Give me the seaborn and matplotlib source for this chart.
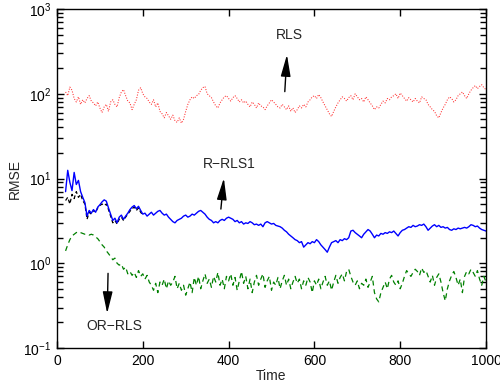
import numpy as np
import pandas as pd
import matplotlib
matplotlib.use("Agg")
import matplotlib.pyplot as plt
from matplotlib.ticker import FixedLocator, NullFormatter, LogLocator
import seaborn as sns

# ---- data (time step 5, from 20 to 1000) ----
time = list(range(20, 1001, 5))

rls = [
    105, 95, 120, 110, 88, 80, 92, 75, 85, 78,
    88, 95, 82, 78, 72, 80, 68, 60, 70, 75,
    62, 80, 85, 75, 70, 90, 105, 112, 95, 82,
    78, 65, 75, 85, 110, 118, 100, 92, 88, 80,
    75, 85, 70, 78, 62, 58, 52, 60, 55, 50,
    56, 48, 46, 52, 45, 50, 62, 75, 85, 92,
    88, 95, 98, 110, 118, 122, 100, 95, 90, 80,
    72, 68, 78, 85, 92, 95, 88, 82, 90, 95,
    88, 80, 85, 78, 82, 75, 70, 80, 75, 68,
    78, 72, 70, 65, 72, 78, 85, 80, 75, 70,
    68, 75, 70, 65, 72, 62, 68, 60, 65, 72,
    68, 75, 70, 80, 85, 92, 95, 88, 98, 90,
    80, 72, 65, 58, 54, 62, 70, 78, 85, 92,
    88, 82, 90, 95, 85, 100, 92, 85, 88, 80,
    92, 85, 78, 72, 65, 70, 68, 75, 82, 78,
    88, 85, 92, 95, 100, 88, 102, 95, 88, 82,
    90, 85, 80, 88, 82, 78, 92, 88, 85, 75,
    70, 65, 62, 55, 52, 60, 68, 75, 85, 92,
    88, 80, 85, 95, 100, 105, 95, 88, 100, 110,
    118, 125, 115, 122, 128, 118, 112,
]

rrls1 = [
    7.0, 12.5, 9.0, 7.2, 11.8, 8.5, 9.5, 7.0, 6.0, 5.2,
    3.6, 4.2, 3.9, 4.3, 4.0, 4.6, 4.9, 5.3, 5.6, 5.4,
    4.5, 3.8, 3.2, 3.4, 3.0, 3.5, 3.7, 3.3, 3.6, 3.9,
    4.3, 4.6, 4.8, 4.4, 4.7, 4.2, 3.8, 3.9, 3.6, 3.8,
    4.0, 3.7, 3.9, 4.1, 4.2, 3.9, 3.7, 3.8, 3.5, 3.3,
    3.1, 3.0, 3.2, 3.3, 3.4, 3.6, 3.7, 3.5, 3.6, 3.8,
    3.7, 3.9, 4.1, 4.2, 4.0, 3.8, 3.5, 3.3, 3.2, 3.0,
    3.1, 3.0, 3.2, 3.3, 3.2, 3.4, 3.5, 3.4, 3.3, 3.1,
    3.2, 3.0, 3.1, 2.9, 3.0, 2.95, 3.1, 3.0, 2.85, 2.9,
    2.8, 2.9, 2.7, 3.0, 3.1, 3.0, 2.9, 2.95, 2.8, 2.75,
    2.7, 2.6, 2.45, 2.35, 2.2, 2.1, 2.0, 1.9, 1.85, 1.75,
    1.8, 1.55, 1.65, 1.75, 1.7, 1.8, 1.75, 1.9, 1.8, 1.65,
    1.55, 1.45, 1.35, 1.55, 1.75, 1.8, 1.85, 1.75, 1.9, 1.85,
    1.95, 1.9, 2.0, 2.4, 2.45, 2.3, 2.2, 2.1, 2.0, 2.2,
    2.35, 2.5, 2.4, 2.2, 2.0, 2.15, 2.1, 2.25, 2.2, 2.3,
    2.25, 2.35, 2.3, 2.4, 2.25, 2.1, 2.3, 2.45, 2.5, 2.6,
    2.7, 2.65, 2.8, 2.7, 2.75, 2.85, 2.8, 2.9, 2.7, 2.45,
    2.6, 2.75, 2.85, 2.7, 2.8, 2.65, 2.7, 2.6, 2.65, 2.5,
    2.45, 2.55, 2.5, 2.6, 2.55, 2.6, 2.65, 2.6, 2.7, 2.85,
    2.8, 2.7, 2.75, 2.6, 2.5, 2.45, 2.4,
]

# black dashed curve hidden under R-RLS1, visible only at the start
time_k = list(range(20, 201, 5))
rrls2 = [
    5.5, 6.0, 5.0, 6.5, 5.8, 7.0, 6.0, 6.5, 5.5, 5.0,
    3.3, 4.0, 3.8, 4.2, 4.0, 4.5, 4.8, 5.0, 4.8, 5.0,
    4.3, 3.6, 3.0, 3.2, 2.9, 3.3, 3.5, 3.2, 3.5, 3.8,
    4.1, 4.4, 4.6, 4.2, 4.5, 4.0, 3.7,
]

orrls = [
    1.40, 1.65, 1.9, 2.1, 2.2, 2.3, 2.35, 2.3, 2.25, 2.2,
    2.2, 2.15, 2.2, 2.15, 2.05, 1.95, 1.8, 1.65, 1.55, 1.4,
    1.3, 1.2, 1.1, 1.15, 1.0, 0.95, 0.98, 0.85, 0.9, 0.75,
    0.8, 0.72, 0.78, 0.68, 0.82, 0.7, 0.75, 0.65, 0.72, 0.6,
    0.55, 0.48, 0.58, 0.45, 0.6, 0.55, 0.65, 0.5, 0.62, 0.55,
    0.6, 0.7, 0.5, 0.58, 0.48, 0.55, 0.42, 0.5, 0.6, 0.45,
    0.68, 0.55, 0.7, 0.5, 0.62, 0.75, 0.58, 0.65, 0.52, 0.7,
    0.6, 0.78, 0.55, 0.65, 0.5, 0.7, 0.62, 0.75, 0.55, 0.68,
    0.48, 0.62, 0.8, 0.58, 0.7, 0.5, 0.65, 0.45, 0.6, 0.72,
    0.55, 0.65, 0.75, 0.52, 0.62, 0.7, 0.48, 0.6, 0.55, 0.68,
    0.5, 0.62, 0.72, 0.55, 0.65, 0.5, 0.6, 0.7, 0.58, 0.65,
    0.5, 0.62, 0.55, 0.68, 0.6, 0.45, 0.62, 0.55, 0.65, 0.5,
    0.6, 0.7, 0.55, 0.62, 0.48, 0.6, 0.72, 0.58, 0.68, 0.75,
    0.62, 0.8, 0.85, 0.7, 0.6, 0.55, 0.62, 0.5, 0.58, 0.55,
    0.65, 0.52, 0.6, 0.7, 0.45, 0.38, 0.35, 0.45, 0.52, 0.6,
    0.5, 0.65, 0.72, 0.6, 0.55, 0.62, 0.5, 0.58, 0.7, 0.82,
    0.75, 0.7, 0.78, 0.85, 0.8, 0.72, 0.88, 0.78, 0.82, 0.7,
    0.6, 0.72, 0.55, 0.68, 0.75, 0.6, 0.45, 0.36, 0.5, 0.62,
    0.72, 0.8, 0.68, 0.55, 0.65, 0.45, 0.7, 0.8, 0.75, 0.85,
    0.78, 0.7, 0.82, 0.65, 0.55, 0.7, 0.6,
]

labels = ["RLS", "R\u2212RLS1", "OR\u2212RLS"]

# ---- style ----
sns.set_style("ticks")
plt.rcParams["font.family"] = ["Liberation Sans", "DejaVu Sans"]
plt.rcParams["mathtext.fontset"] = "custom"
plt.rcParams["mathtext.rm"] = "Liberation Sans"
plt.rcParams["mathtext.it"] = "Liberation Sans:italic"
plt.rcParams["mathtext.bf"] = "Liberation Sans:bold"

fig = plt.figure(figsize=(5.0, 3.83), dpi=100)
ax = fig.add_axes([0.114, 0.0914, 0.858, 0.885])

df_main = pd.DataFrame({"Time": time, "RLS": rls, "RRLS1": rrls1, "ORRLS": orrls})
df_k = pd.DataFrame({"Time": time_k, "RRLS2": rrls2})

sns.lineplot(data=df_main, x="Time", y="RLS", ax=ax, color="#ff3030",
             linestyle=(0, (1, 1.5)), linewidth=0.75, estimator=None)
sns.lineplot(data=df_k, x="Time", y="RRLS2", ax=ax, color="black",
             linestyle=(0, (3, 2)), linewidth=0.9, estimator=None)
sns.lineplot(data=df_main, x="Time", y="RRLS1", ax=ax, color="#0000ff",
             linewidth=1.0, estimator=None)
sns.lineplot(data=df_main, x="Time", y="ORRLS", ax=ax, color="#008000",
             linestyle=(0, (4, 3)), linewidth=0.9, estimator=None)

ax.set_yscale("log")
ax.set_xlim(0, 1000)
ax.set_ylim(0.1, 1000)
ax.set_xticks(range(0, 1001, 200))
ax.yaxis.set_major_locator(LogLocator(base=10, numticks=10))
minor_pos = [m * 10.0 ** e for e in range(-1, 3) for m in range(2, 10)]
ax.yaxis.set_minor_locator(FixedLocator(minor_pos))
ax.yaxis.set_minor_formatter(NullFormatter())

ax.tick_params(which="both", direction="in", top=True, right=True,
               labelsize=10, colors="black")
ax.tick_params(which="major", length=5, width=1.0, pad=4)
ax.yaxis.set_tick_params(which="minor", length=4, width=1.0,
                         left=True, right=True, direction="in")
for s in ax.spines.values():
    s.set_linewidth(1.0)
    s.set_color("black")

ax.set_xlabel("Time", fontsize=10, labelpad=1)
ax.set_ylabel("RMSE", fontsize=10, labelpad=1)

arrow = dict(arrowstyle="-|>,head_length=1.1,head_width=0.25", color="black",
             lw=1.0, shrinkA=0, shrinkB=0, mutation_scale=12)

ax.annotate("", xy=(536, 289), xytext=(531, 106), arrowprops=arrow)
ax.text(541, 490, labels[0], ha="center", va="center", fontsize=10)

ax.annotate("", xy=(389, 10.1), xytext=(382, 4.36), arrowprops=arrow)
ax.text(401, 15.0, labels[1], ha="center", va="center", fontsize=10)

ax.annotate("", xy=(117, 0.256), xytext=(119, 0.76), arrowprops=arrow)
ax.text(133, 0.184, labels[2], ha="center", va="center", fontsize=10)

fig.savefig("out.png", dpi=100)
